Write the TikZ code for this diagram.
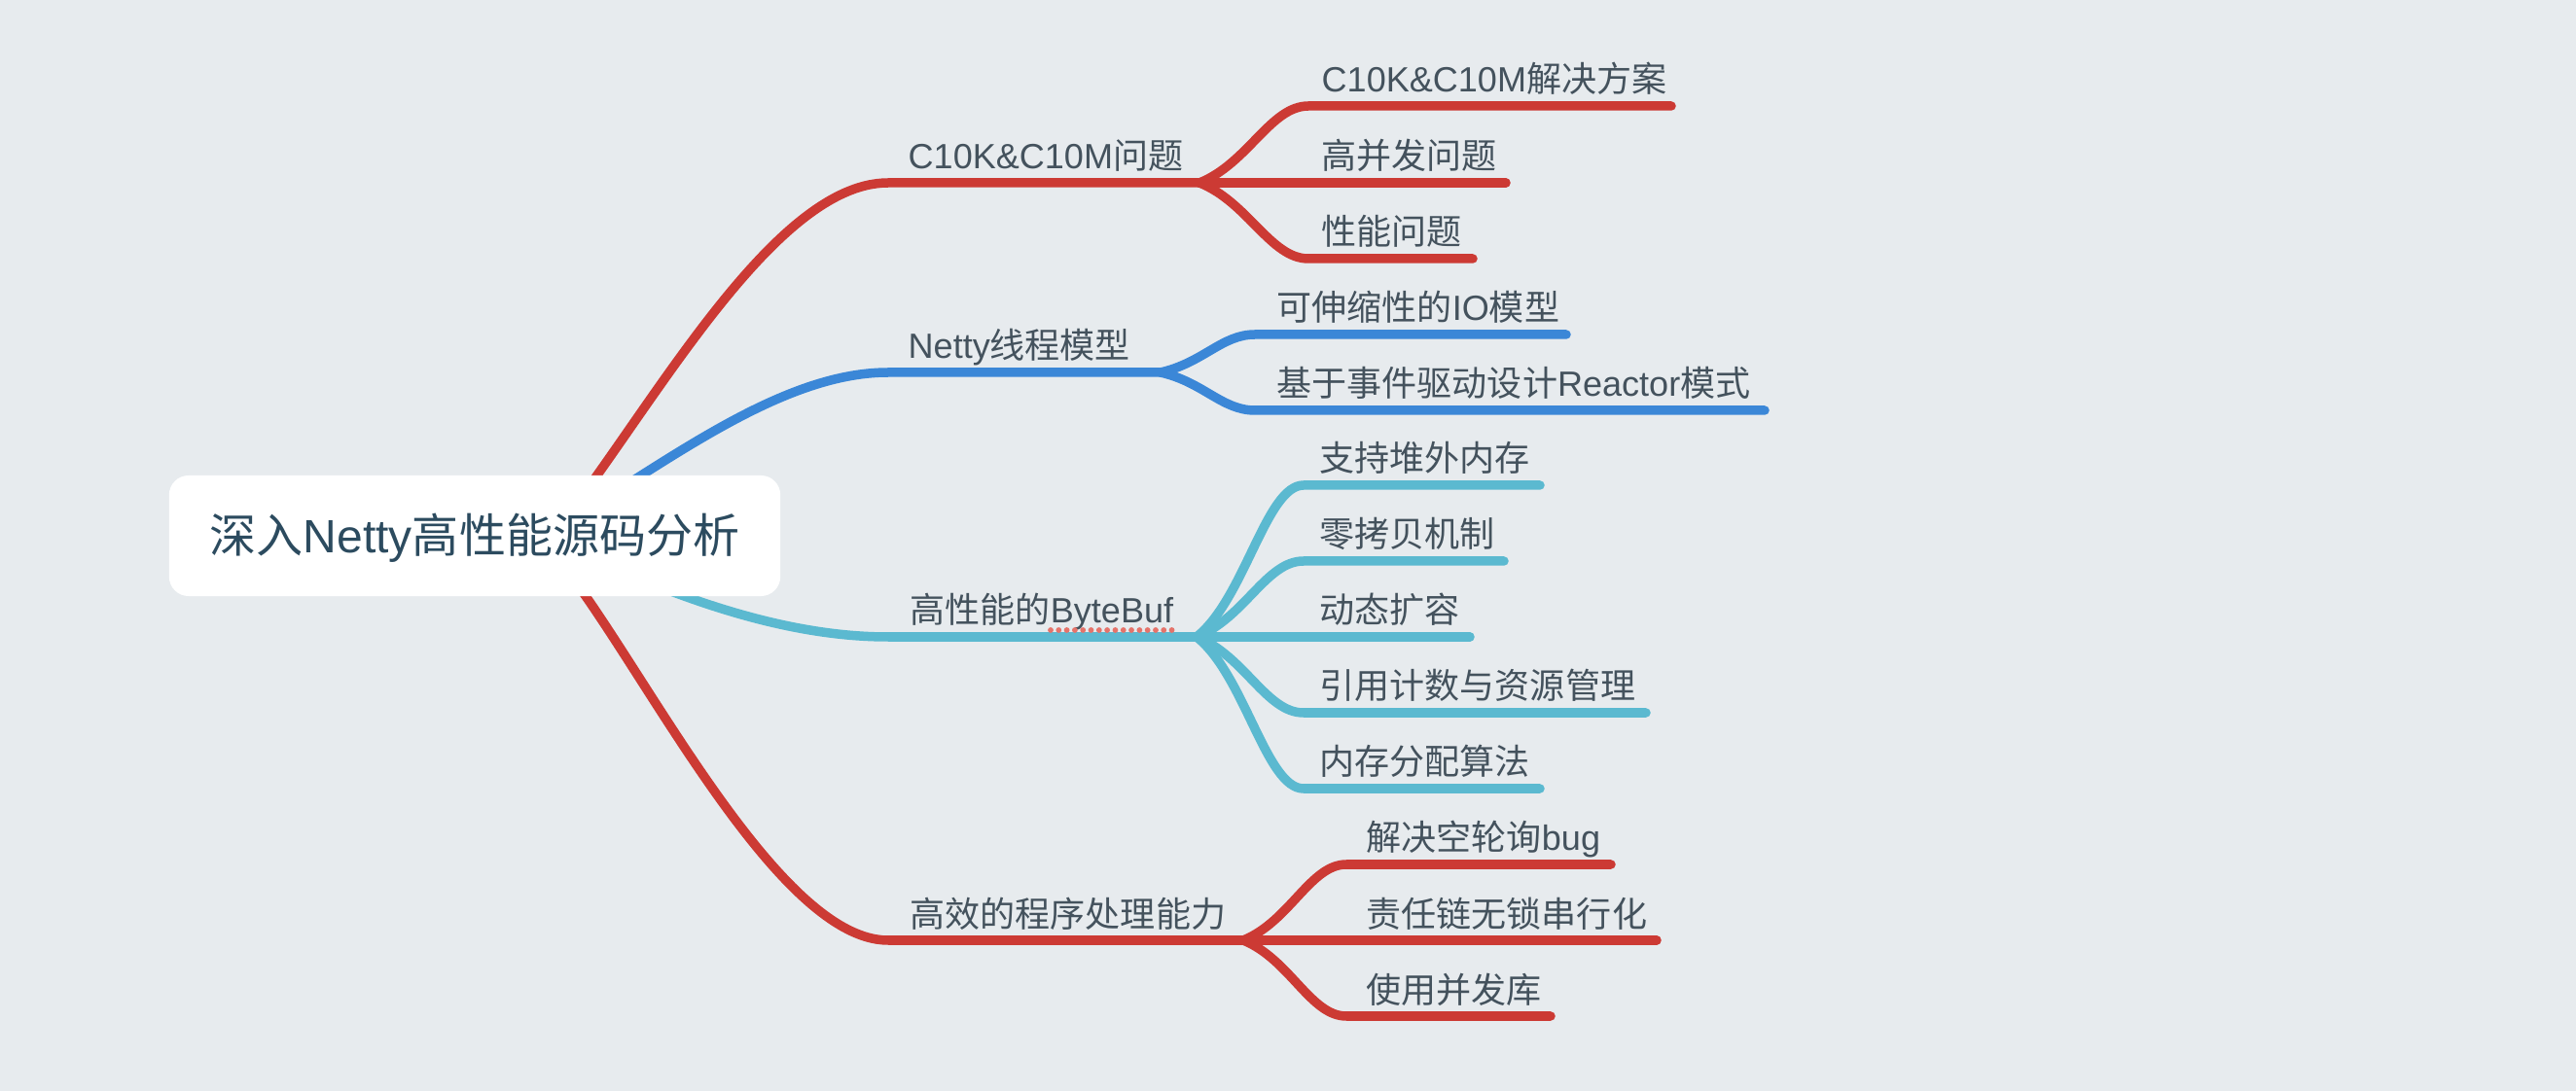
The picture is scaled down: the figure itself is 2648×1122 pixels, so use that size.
\documentclass[tikz,border=0pt]{standalone}
\usepackage{fontspec}
\setmainfont{Liberation Sans}
\newfontfamily\cjkf{Noto Sans CJK SC}
\newcommand{\zhs}[1]{{\cjkf #1}}
\usetikzlibrary{calc}
\pgfdeclarelayer{bg}
\pgfsetlayers{bg,main}
\definecolor{bgc}{HTML}{E7EBEE}
\definecolor{cred}{HTML}{CC3A34}
\definecolor{cblue}{HTML}{3B87D7}
\definecolor{ccyan}{HTML}{5BB9D0}
\definecolor{ctext}{HTML}{44525D}
\definecolor{croot}{HTML}{2C4B5F}
\definecolor{cdot}{HTML}{E5736A}
\begin{document}
\begin{tikzpicture}[x=0.01cm,y=-0.01cm,
  conn/.style={line width=0.095cm, line cap=round, line join=round},
  topic/.style={anchor=base west, inner sep=0pt, text=ctext, font=\fontsize{10.25pt}{12pt}\selectfont},
  rootbox/.style={fill=white, rounded corners=0.2cm, minimum width=6.28cm, minimum height=1.24cm, inner sep=0pt, text=croot, font=\fontsize{13.66pt}{16pt}\selectfont, text height=0.40cm, text depth=0.06cm}
]
\begin{pgfonlayer}{bg}
\path[fill=bgc] (0,0) rectangle (2648,1122);
\end{pgfonlayer}
\useasboundingbox (0,0) rectangle (2648,1122);

% root
\node[rootbox] (root) at (488,551) {\zhs{深入}Netty\zhs{高性能源码分析}};

% coordinates
\coordinate (o1) at (560,560);
\coordinate (o2) at (560,551);
\coordinate (o3) at (560,551);
\coordinate (o4) at (560,560);
\coordinate (h1) at (913,188);
\coordinate (h2) at (913,383);
\coordinate (h3) at (913,655);
\coordinate (h4) at (913,967);
\coordinate (f1) at (1233,188);
\coordinate (f2) at (1193,383);
\coordinate (f3) at (1230,655);
\coordinate (f4) at (1278,967);

% branch 1 leaves
\coordinate (s11) at (1345,109);  \coordinate (e11) at (1718,109);
\coordinate (e12) at (1548,188);
\coordinate (s13) at (1345,266);  \coordinate (e13) at (1514,266);
% branch 2 leaves
\coordinate (s21) at (1290,344);  \coordinate (e21) at (1610,344);
\coordinate (s22) at (1290,422);  \coordinate (e22) at (1814,422);
% branch 3 leaves
\coordinate (s31) at (1340,499);  \coordinate (e31) at (1583,499);
\coordinate (s32) at (1340,577);  \coordinate (e32) at (1546,577);
\coordinate (e33) at (1511,655);
\coordinate (s34) at (1340,733);  \coordinate (e34) at (1692,733);
\coordinate (s35) at (1340,811);  \coordinate (e35) at (1583,811);
% branch 4 leaves
\coordinate (s41) at (1384,889);  \coordinate (e41) at (1656,889);
\coordinate (e42) at (1703,967);
\coordinate (s43) at (1384,1045); \coordinate (e43) at (1594,1045);

\begin{pgfonlayer}{bg}
% main branches
\draw[conn, cred]  (o1) .. controls (660,440) and (790,188) .. (h1) -- (f1);
\draw[conn, cblue] (o2) .. controls (680,480) and (800,383) .. (h2) -- (f2);
\draw[conn, ccyan] (o3) .. controls (680,610) and (800,655) .. (h3) -- (f3);
\draw[conn, cred]  (o4) .. controls (640,640) and (790,967) .. (h4) -- (f4);

% branch 1 subs
\draw[conn, cred] (f1) .. controls +(50,-20) and +(-39,0) .. (s11) -- (e11);
\draw[conn, cred] (f1) -- (e12);
\draw[conn, cred] (f1) .. controls +(50,20) and +(-39,0) .. (s13) -- (e13);
% branch 2 subs
\draw[conn, cblue] (f2) .. controls +(44,-10) and +(-34,0) .. (s21) -- (e21);
\draw[conn, cblue] (f2) .. controls +(44,10) and +(-34,0) .. (s22) -- (e22);
% branch 3 subs
\draw[conn, ccyan] (f3) .. controls +(49.5,-39) and +(-38.5,0) .. (s31) -- (e31);
\draw[conn, ccyan] (f3) .. controls +(49.5,-19.5) and +(-38.5,0) .. (s32) -- (e32);
\draw[conn, ccyan] (f3) -- (e33);
\draw[conn, ccyan] (f3) .. controls +(49.5,19.5) and +(-38.5,0) .. (s34) -- (e34);
\draw[conn, ccyan] (f3) .. controls +(49.5,39) and +(-38.5,0) .. (s35) -- (e35);
% branch 4 subs
\draw[conn, cred] (f4) .. controls +(48,-19.5) and +(-37,0) .. (s41) -- (e41);
\draw[conn, cred] (f4) -- (e42);
\draw[conn, cred] (f4) .. controls +(48,19.5) and +(-37,0) .. (s43) -- (e43);
\end{pgfonlayer}

% main labels
\node[topic] (t1) at (933,174) {C10K\&C10M\zhs{问题}};
\node[topic] (t2) at (933,369) {Netty\zhs{线程模型}};
\node[topic] (t3) at (935,641) {\zhs{高性能的}ByteBuf};
\node[topic] (t4) at (935,953) {\zhs{高效的程序处理能力}};

% spell-check dots under ByteBuf
\draw[cdot, line width=0.058cm, line cap=round, dash pattern=on 0pt off 0.083cm] (1080,648) -- (1210,648);

% leaf labels
\node[topic] (l11) at (1358,95)  {C10K\&C10M\zhs{解决方案}};
\node[topic] (l12) at (1358,174) {\zhs{高并发问题}};
\node[topic] (l13) at (1358,252) {\zhs{性能问题}};
\node[topic] (l21) at (1312,330) {\zhs{可伸缩性的}IO\zhs{模型}};
\node[topic] (l22) at (1312,408) {\zhs{基于事件驱动设计}Reactor\zhs{模式}};
\node[topic] (l31) at (1356,485) {\zhs{支持堆外内存}};
\node[topic] (l32) at (1356,563) {\zhs{零拷贝机制}};
\node[topic] (l33) at (1356,641) {\zhs{动态扩容}};
\node[topic] (l34) at (1356,719) {\zhs{引用计数与资源管理}};
\node[topic] (l35) at (1356,797) {\zhs{内存分配算法}};
\node[topic] (l41) at (1404,875) {\zhs{解决空轮询}bug};
\node[topic] (l42) at (1404,953) {\zhs{责任链无锁串行化}};
\node[topic] (l43) at (1404,1031) {\zhs{使用并发库}};
\end{tikzpicture}
\end{document}
